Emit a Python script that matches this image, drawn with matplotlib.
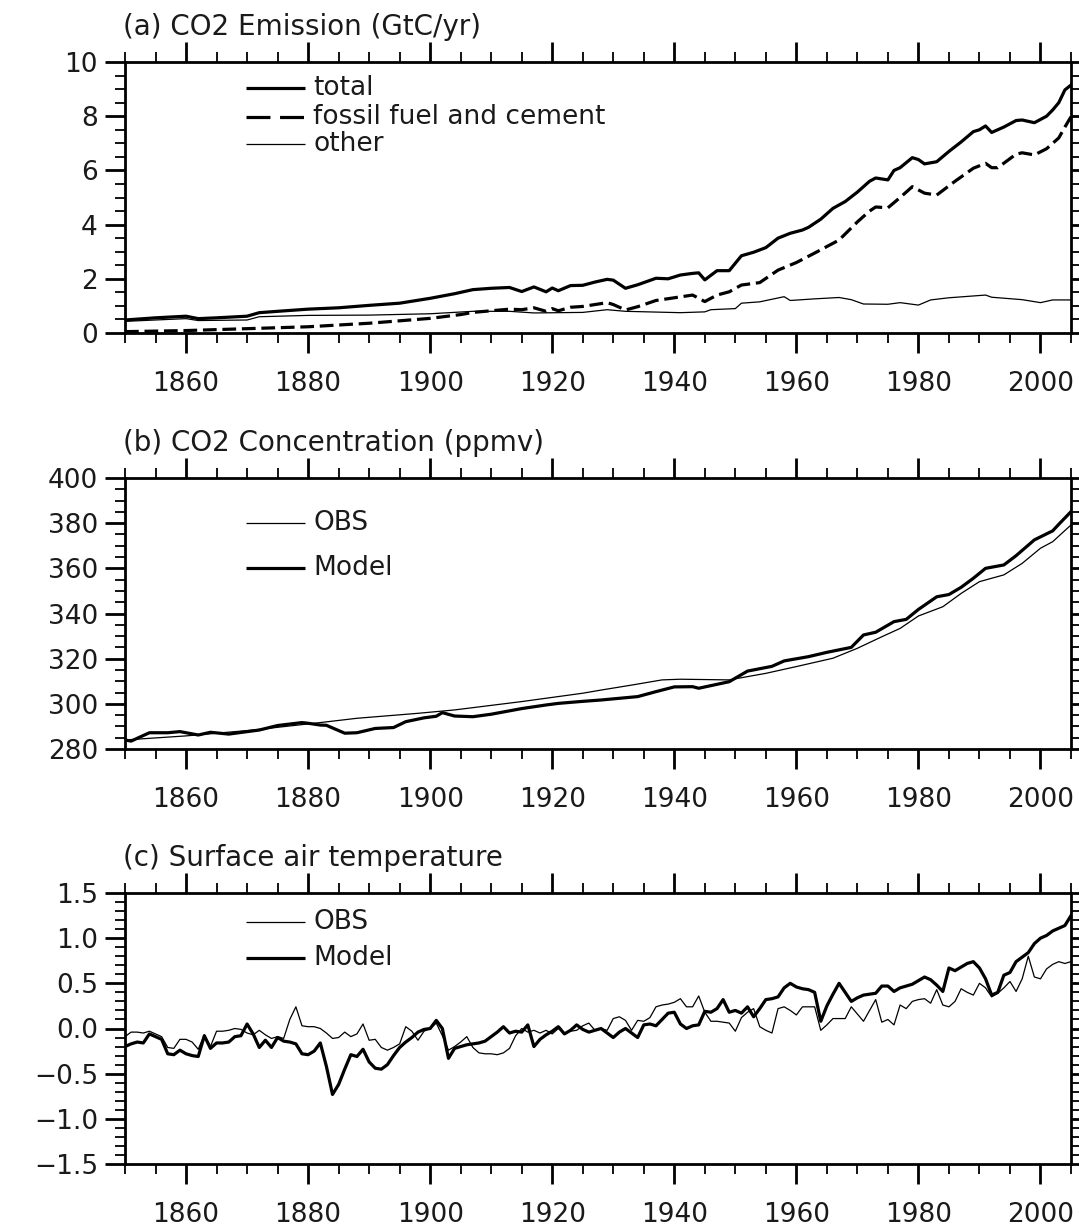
import numpy as np
import matplotlib
matplotlib.use("Agg")
import matplotlib.pyplot as plt
from matplotlib.ticker import MultipleLocator, FixedLocator, FuncFormatter

# ---------------- data ----------------
# (a) CO2 emission (GtC/yr)
total_years = [1850, 1855, 1860, 1862, 1865, 1870, 1872, 1875, 1880, 1885, 1890, 1895, 1900,
               1904, 1907, 1910, 1913, 1915, 1917, 1919, 1920, 1921, 1923, 1925, 1927, 1929,
               1930, 1932, 1934, 1937, 1939, 1941, 1943, 1944, 1945, 1947, 1949, 1951, 1953,
               1955, 1957, 1959, 1961, 1962, 1964, 1966, 1968, 1970, 1972, 1973, 1975, 1976,
               1977, 1979, 1980, 1981, 1983, 1985, 1987, 1989, 1990, 1991, 1992, 1994, 1996,
               1997, 1999, 2001, 2002, 2003, 2004, 2005]
total_emis = [0.48, 0.56, 0.62, 0.53, 0.56, 0.62, 0.75, 0.80, 0.88, 0.93, 1.02, 1.10, 1.28,
              1.45, 1.60, 1.65, 1.68, 1.53, 1.70, 1.52, 1.66, 1.56, 1.75, 1.76, 1.88, 1.98,
              1.95, 1.65, 1.78, 2.02, 2.00, 2.14, 2.20, 2.22, 1.96, 2.30, 2.30, 2.85, 2.98,
              3.15, 3.50, 3.68, 3.80, 3.90, 4.20, 4.60, 4.85, 5.20, 5.60, 5.72, 5.65, 6.00,
              6.10, 6.47, 6.40, 6.24, 6.32, 6.70, 7.05, 7.43, 7.50, 7.64, 7.40, 7.60, 7.84,
              7.86, 7.76, 8.00, 8.23, 8.50, 8.97, 9.15]

fossil_years = [1850, 1860, 1870, 1880, 1890, 1900, 1905, 1907, 1910, 1913, 1915, 1917, 1919,
                1920, 1921, 1923, 1925, 1927, 1929, 1930, 1932, 1934, 1937, 1940, 1943, 1945,
                1947, 1949, 1951, 1954, 1957, 1960, 1963, 1967, 1970, 1972, 1973, 1975, 1977,
                1979, 1981, 1983, 1986, 1989, 1991, 1992, 1993, 1996, 1997, 1999, 2001, 2002,
                2003, 2004, 2005]
fossil_emis = [0.05, 0.09, 0.16, 0.23, 0.36, 0.54, 0.68, 0.76, 0.82, 0.88, 0.86, 0.93, 0.80,
               0.90, 0.82, 0.95, 0.98, 1.05, 1.12, 1.05, 0.85, 0.97, 1.20, 1.30, 1.40, 1.16,
               1.40, 1.52, 1.77, 1.86, 2.32, 2.60, 2.95, 3.43, 4.10, 4.50, 4.65, 4.62, 5.00,
               5.40, 5.16, 5.09, 5.60, 6.08, 6.26, 6.10, 6.10, 6.60, 6.65, 6.57, 6.80, 7.00,
               7.20, 7.60, 7.98]

other_years = [1850, 1860, 1862, 1870, 1872, 1880, 1890, 1900, 1907, 1913, 1917, 1925, 1929,
               1932, 1941, 1945, 1946, 1950, 1951, 1954, 1958, 1959, 1963, 1967, 1969, 1971,
               1975, 1977, 1980, 1982, 1985, 1991, 1992, 1997, 2000, 2002, 2005]
other_emis = [0.43, 0.53, 0.46, 0.48, 0.60, 0.65, 0.66, 0.71, 0.80, 0.80, 0.74, 0.76, 0.86,
              0.80, 0.75, 0.78, 0.86, 0.90, 1.10, 1.15, 1.34, 1.20, 1.26, 1.31, 1.23, 1.07,
              1.06, 1.12, 1.03, 1.22, 1.30, 1.40, 1.32, 1.23, 1.12, 1.22, 1.22]

# (b) CO2 concentration (ppmv)
co2_obs_years = [1850, 1860, 1871, 1882, 1888, 1898, 1904, 1915, 1925, 1928, 1933, 1938, 1941,
                 1949, 1955, 1960, 1966, 1970, 1974, 1977, 1980, 1984, 1987, 1990, 1994, 1997,
                 2000, 2002, 2005]
co2_obs = [284.0, 285.8, 288.4, 291.7, 293.6, 295.8, 297.3, 301.0, 304.7, 306.1, 308.3, 310.6,
           310.9, 310.6, 313.5, 316.5, 320.2, 324.6, 329.7, 333.4, 338.9, 343.0, 348.9, 354.1,
           357.1, 362.2, 368.9, 371.8, 379.2]

co2_mod_years = [1850, 1851, 1854, 1857, 1859, 1862, 1864, 1867, 1872, 1875, 1879, 1880, 1882,
                 1883, 1886, 1888, 1891, 1894, 1896, 1899, 1901, 1902, 1904, 1907, 1910, 1915,
                 1919, 1921, 1925, 1928, 1934, 1937, 1940, 1943, 1944, 1949, 1952, 1956, 1958,
                 1962, 1965, 1969, 1971, 1973, 1976, 1978, 1980, 1983, 1985, 1987, 1989, 1991,
                 1994, 1996, 1999, 2002, 2003, 2005]
co2_mod = [284.0, 283.5, 287.2, 287.2, 287.7, 286.2, 287.4, 286.6, 288.4, 290.4, 291.7, 291.4,
           290.6, 290.5, 287.0, 287.2, 289.1, 289.5, 292.1, 293.8, 294.5, 296.1, 294.6, 294.3,
           295.4, 297.9, 299.5, 300.2, 301.1, 301.7, 303.2, 305.4, 307.5, 307.6, 306.9, 309.8,
           314.5, 316.6, 319.0, 320.9, 322.8, 325.0, 330.5, 331.7, 336.4, 337.4, 341.8, 347.4,
           348.4, 351.6, 355.6, 360.0, 361.5, 365.6, 372.6, 376.6, 379.5, 385.1]

# (c) Surface air temperature anomaly, annual 1850-2005
sat_years = list(range(1850, 2006))
sat_model = [
    -0.20, -0.17, -0.15, -0.16, -0.06, -0.09, -0.12, -0.28, -0.29, -0.24,
    -0.28, -0.30, -0.31, -0.08, -0.22, -0.16, -0.16, -0.15, -0.09, -0.08,
    0.05, -0.06, -0.21, -0.13, -0.21, -0.10, -0.14, -0.15, -0.17, -0.28,
    -0.29, -0.25, -0.16, -0.42, -0.73, -0.62, -0.45, -0.29, -0.31, -0.23,
    -0.37, -0.44, -0.45, -0.40, -0.30, -0.21, -0.15, -0.10, -0.04, -0.01,
    0.00, 0.09, 0.00, -0.33, -0.22, -0.20, -0.18, -0.17, -0.16, -0.14,
    -0.09, -0.04, 0.02, -0.05, -0.03, -0.04, 0.04, -0.20, -0.12, -0.07,
    -0.03, 0.02, -0.06, -0.02, 0.04, -0.01, -0.04, -0.02, 0.00, -0.05,
    -0.10, -0.04, 0.00, -0.05, -0.10, 0.04, 0.05, 0.03, 0.10, 0.17,
    0.18, 0.05, 0.00, 0.03, 0.04, 0.19, 0.18, 0.22, 0.32, 0.18,
    0.20, 0.17, 0.24, 0.13, 0.22, 0.32, 0.33, 0.35, 0.45, 0.50,
    0.46, 0.44, 0.43, 0.40, 0.08, 0.25, 0.38, 0.50, 0.40, 0.30,
    0.34, 0.37, 0.38, 0.39, 0.47, 0.47, 0.41, 0.45, 0.47, 0.49,
    0.53, 0.57, 0.54, 0.48, 0.41, 0.67, 0.64, 0.68, 0.72, 0.74,
    0.67, 0.55, 0.37, 0.40, 0.59, 0.62, 0.74, 0.79, 0.84, 0.94,
    1.00, 1.03, 1.08, 1.11, 1.14, 1.25]
sat_obs = [
    -0.09, -0.04, -0.04, -0.05, -0.03, -0.06, -0.09, -0.21, -0.22, -0.12,
    -0.12, -0.15, -0.23, -0.07, -0.20, -0.03, -0.03, -0.02, 0.00, -0.01,
    -0.05, -0.07, -0.02, -0.07, -0.11, -0.09, -0.11, 0.10, 0.24, 0.03,
    0.02, 0.02, 0.00, -0.05, -0.11, -0.10, -0.04, -0.09, -0.06, 0.05,
    -0.13, -0.12, -0.21, -0.24, -0.21, -0.17, 0.02, -0.03, -0.13, -0.03,
    0.00, 0.06, -0.08, -0.24, -0.20, -0.15, -0.09, -0.21, -0.27, -0.28,
    -0.28, -0.29, -0.27, -0.22, -0.08, 0.00, -0.04, -0.02, -0.05, -0.02,
    -0.06, 0.00, -0.05, -0.03, -0.02, 0.03, 0.06, -0.02, 0.00, -0.02,
    0.11, 0.13, 0.09, -0.02, 0.09, 0.08, 0.12, 0.24, 0.26, 0.27,
    0.29, 0.33, 0.24, 0.24, 0.36, 0.18, 0.08, 0.08, 0.07, 0.06,
    -0.03, 0.12, 0.18, 0.22, 0.02, -0.02, -0.05, 0.22, 0.24, 0.20,
    0.15, 0.24, 0.24, 0.24, -0.02, 0.04, 0.11, 0.11, 0.11, 0.24,
    0.16, 0.08, 0.20, 0.32, 0.07, 0.10, 0.04, 0.26, 0.22, 0.30,
    0.32, 0.33, 0.28, 0.43, 0.26, 0.24, 0.30, 0.44, 0.40, 0.37,
    0.50, 0.45, 0.35, 0.39, 0.45, 0.52, 0.41, 0.55, 0.80, 0.57,
    0.55, 0.66, 0.71, 0.74, 0.72, 0.74]

titles = ["(a) CO2 Emission (GtC/yr)", "(b) CO2 Concentration (ppmv)",
          "(c) Surface air temperature"]
x_major = [1860, 1880, 1900, 1920, 1940, 1960, 1980, 2000]

# ---------------- figure ----------------
plt.rcParams['font.family'] = ['DejaVu Sans']
W, H = 1079, 1228
fig = plt.figure(figsize=(W / 100, H / 100), dpi=100)

left, right = 125 / W, 1071 / W
tops = [62, 478, 893]
ph = 271
axes = []
for t in tops:
    ax = fig.add_axes([left, 1 - (t + ph) / H, right - left, ph / H])
    axes.append(ax)

THICK = 2.3
THIN = 0.9
TXT = '#1a1a1a'


def make_fmt(fmt):
    return FuncFormatter(lambda v, p: (fmt % v).replace('-', '\u2212'))


def style(ax, ylim, ymaj, ymin, fmt):
    ax.set_xlim(1850, 2005)
    ax.set_ylim(*ylim)
    ax.xaxis.set_major_locator(FixedLocator(x_major))
    ax.xaxis.set_minor_locator(MultipleLocator(5))
    ax.yaxis.set_major_locator(MultipleLocator(ymaj))
    ax.yaxis.set_minor_locator(MultipleLocator(ymin))
    ax.yaxis.set_major_formatter(make_fmt(fmt))
    for s in ax.spines.values():
        s.set_linewidth(2.0)
    ax.tick_params(which='both', direction='out', top=True, right=True,
                   labeltop=False, labelright=False, labelcolor=TXT)
    ax.tick_params(which='major', length=14.5, width=2.0, labelsize=19)
    ax.tick_params(which='minor', length=7.2, width=1.3)
    ax.tick_params(axis='x', which='major', pad=13)
    ax.tick_params(axis='y', which='major', pad=5)


def legend_line(ax, yf, label, lw, dashes=None):
    kw = {}
    if dashes is not None:
        kw['dashes'] = dashes
    ax.plot([0.128, 0.190], [yf, yf], transform=ax.transAxes, color='black',
            lw=lw, solid_capstyle='butt', dash_capstyle='butt', clip_on=False, **kw)
    ax.text(0.199, yf, label, transform=ax.transAxes, va='center', ha='left',
            fontsize=19, color=TXT)


# (a)
ax = axes[0]
ax.plot(total_years, total_emis, color='black', lw=THICK)
ax.plot(fossil_years, fossil_emis, color='black', lw=THICK, dashes=(4.3, 1.8))
ax.plot(other_years, other_emis, color='black', lw=THIN)
style(ax, (0, 10), 2, 0.5, '%d')
legend_line(ax, 0.904, 'total', THICK)
legend_line(ax, 0.797, 'fossil fuel and cement', THICK, dashes=(7.5, 3.0))
legend_line(ax, 0.697, 'other', THIN)

# (b)
ax = axes[1]
ax.plot(co2_obs_years, co2_obs, color='black', lw=THIN)
ax.plot(co2_mod_years, co2_mod, color='black', lw=THICK)
style(ax, (280, 400), 20, 5, '%d')
legend_line(ax, 0.835, 'OBS', THIN)
legend_line(ax, 0.668, 'Model', THICK)

# (c)
ax = axes[2]
ax.plot(sat_years, sat_obs, color='black', lw=THIN)
ax.plot(sat_years, sat_model, color='black', lw=THICK)
style(ax, (-1.5, 1.5), 0.5, 0.1, '%.1f')
legend_line(ax, 0.894, 'OBS', THIN)
legend_line(ax, 0.760, 'Model', THICK)

for ax, t in zip(axes, titles):
    ax.text(-0.002, 1.129, t, transform=ax.transAxes, ha='left', va='center',
            fontsize=20, color=TXT)

fig.savefig('out.png', dpi=100)
